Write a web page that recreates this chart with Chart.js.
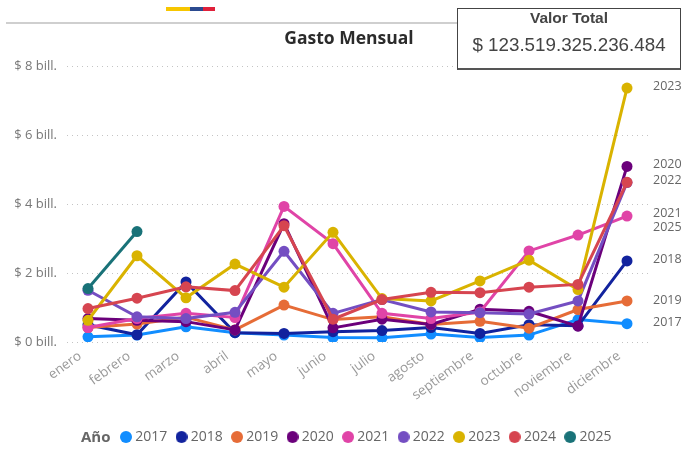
<!DOCTYPE html>
<html><head><meta charset="utf-8">
<script src="https://cdn.jsdelivr.net/npm/chart.js@4"></script>
<style>
html,body{margin:0;padding:0;background:#fff;width:681px;height:455px;overflow:hidden}
#wrap{position:relative;width:681px;height:455px;filter:blur(0.35px)}
canvas{position:absolute;left:0;top:0}
.a{position:absolute;white-space:nowrap}
</style></head><body>
<div id="wrap">
<canvas id="c" width="681" height="455"></canvas>
<div class="a" style="left:166px;top:7px;width:24px;height:4px;background:#F7C600"></div>
<div class="a" style="left:190px;top:7px;width:13px;height:4px;background:#2B4A8F"></div>
<div class="a" style="left:203px;top:7px;width:12px;height:4px;background:#E0203A"></div>
<div class="a" style="left:6px;top:22px;width:451px;height:2px;background:#cfcfcf"></div>
<div class="a" style="left:249px;width:200px;text-align:center;top:25px;font:bold 17.5px 'Open Sans';color:#2b2b2b">Gasto Mensual</div>
<div class="a" style="left:457px;top:8px;width:222px;height:59px;border:1px solid #444;border-bottom:2px solid #555;background:#fff">
<div class="a" style="left:0;width:100%;text-align:center;top:0px;font:bold 15.5px 'Liberation Sans';color:#444">Valor Total</div>
<div class="a" style="left:0;width:100%;text-align:center;top:25px;font:18.8px 'Liberation Sans';color:#444">$ 123.519.325.236.484</div>
</div>
<div class="a" style="left:81px;top:426px;font:bold 15px 'Open Sans';color:#666">Año</div>
</div>
<script>
const months = ['enero','febrero','marzo','abril','mayo','junio','julio','agosto','septiembre','octubre','noviembre','diciembre'];
const yearLabels = ['2017','2018','2019','2020','2021','2022','2023','2024','2025'];
const colors = ['#118DFF','#12239E','#E66C37','#6B007B','#E044A7','#744EC2','#D9B300','#D64550','#197278'];
const s2017 = [0.15,0.20,0.44,0.27,0.20,0.13,0.12,0.23,0.13,0.20,0.65,0.53];
const s2018 = [0.50,0.21,1.74,0.27,0.25,0.30,0.33,0.42,0.25,0.50,0.47,2.35];
const s2019 = [0.42,0.52,0.72,0.35,1.07,0.65,0.73,0.51,0.60,0.40,0.94,1.19];
const s2020 = [0.68,0.63,0.59,0.35,3.43,0.41,0.66,0.51,0.95,0.89,0.46,5.09];
const s2021 = [0.42,0.68,0.83,0.71,3.93,2.85,0.83,0.68,0.87,2.64,3.10,3.65];
const s2022 = [1.50,0.73,0.68,0.86,2.63,0.83,1.23,0.87,0.85,0.81,1.19,4.62];
const s2023 = [0.63,2.50,1.28,2.26,1.59,3.18,1.26,1.19,1.77,2.37,1.52,7.36];
const s2024 = [0.97,1.27,1.60,1.49,3.37,0.66,1.23,1.44,1.43,1.59,1.67,4.63];
const s2025 = [1.55,3.20];
const seriesValues = [s2017,s2018,s2019,s2020,s2021,s2022,s2023,s2024,s2025];
const yTicks = [0,2,4,6,8];
const endLabels = ['2023','2020','2022','2021','2025','2018','2019','2017'];
const endLabelValues = [7.41,5.14,4.68,3.72,3.32,2.40,1.21,0.58];

function dot(color){
  const c = document.createElement('canvas');
  c.width = 12; c.height = 12;
  const g = c.getContext('2d');
  g.fillStyle = color;
  g.beginPath(); g.arc(6,6,6,0,Math.PI*2); g.fill();
  return c;
}
const dots = colors.map(dot);

const endLabelPlugin = {
  id:'endLabels',
  beforeDraw(chart){
    const lg = chart.legend;
    const d = 111.75 - lg.left;
    if (d) { lg.left += d; lg.right += d; }
  },
  afterDraw(chart){
    const ctx = chart.ctx, y = chart.scales.y;
    ctx.save();
    ctx.font = "12.5px 'Open Sans'";
    ctx.fillStyle = '#666';
    ctx.textAlign = 'left';
    ctx.textBaseline = 'middle';
    endLabels.forEach((t,i)=>ctx.fillText(t, 653, y.getPixelForValue(endLabelValues[i])));
    ctx.restore();
  }
};

new Chart(document.getElementById('c'),{
  type:'line',
  data:{
    datasets: yearLabels.map((y,i)=>({
      label:y,
      data: seriesValues[i].map((v,k)=>({x:k,y:v})),
      borderColor:colors[i],
      backgroundColor:colors[i],
      pointBackgroundColor:colors[i],
      pointBorderColor:colors[i],
      borderWidth:3,
      pointRadius:5.5,
      pointBorderWidth:0,
      tension:0,
      order:yearLabels.length-i
    }))
  },
  plugins:[endLabelPlugin],
  options:{
    responsive:false,
    animation:false,
    layout:{padding:{top:66,right:33,left:0,bottom:1}},
    plugins:{
      tooltip:{enabled:false},
      title:{display:false},
      legend:{
        display:true,position:'bottom',align:'start',
        labels:{
          usePointStyle:true,pointStyleWidth:4.5,boxHeight:8.5,
          padding:12,
          sort:(a,b)=>a.datasetIndex-b.datasetIndex,
          generateLabels(chart){
            return Chart.defaults.plugins.legend.labels.generateLabels(chart)
              .map(it=>Object.assign(it,{pointStyle:dots[it.datasetIndex]}));
          },
          color:'#666',
          font:{family:"'Open Sans'",size:14}
        }
      }
    },
    scales:{
      x:{
        type:'linear',min:-21/49,max:11+21/49,
        afterBuildTicks(s){s.ticks=months.map((_,i)=>({value:i}));},
        afterFit(s){s.height=76;},
        grid:{display:false,drawTicks:false},
        border:{display:false},
        ticks:{
          autoSkip:false,minRotation:36,maxRotation:36,padding:6,labelOffset:-8,
          color:'#999',font:{family:"'Open Sans'",size:13.5},
          callback:v=>months[v]
        }
      },
      y:{
        min:0,max:8,
        afterBuildTicks(s){s.ticks=yTicks.map(v=>({value:v}));},
        afterFit(s){s.width=67;},
        grid:{color:'#c4c4c4',lineWidth:1,drawTicks:false},
        border:{display:false,dash:[1,4]},
        ticks:{
          padding:10,color:'#777',font:{family:"'Open Sans'",size:13},
          callback:v=>'$ '+v+' bill.'
        }
      }
    }
  }
});
</script>
</body></html>
